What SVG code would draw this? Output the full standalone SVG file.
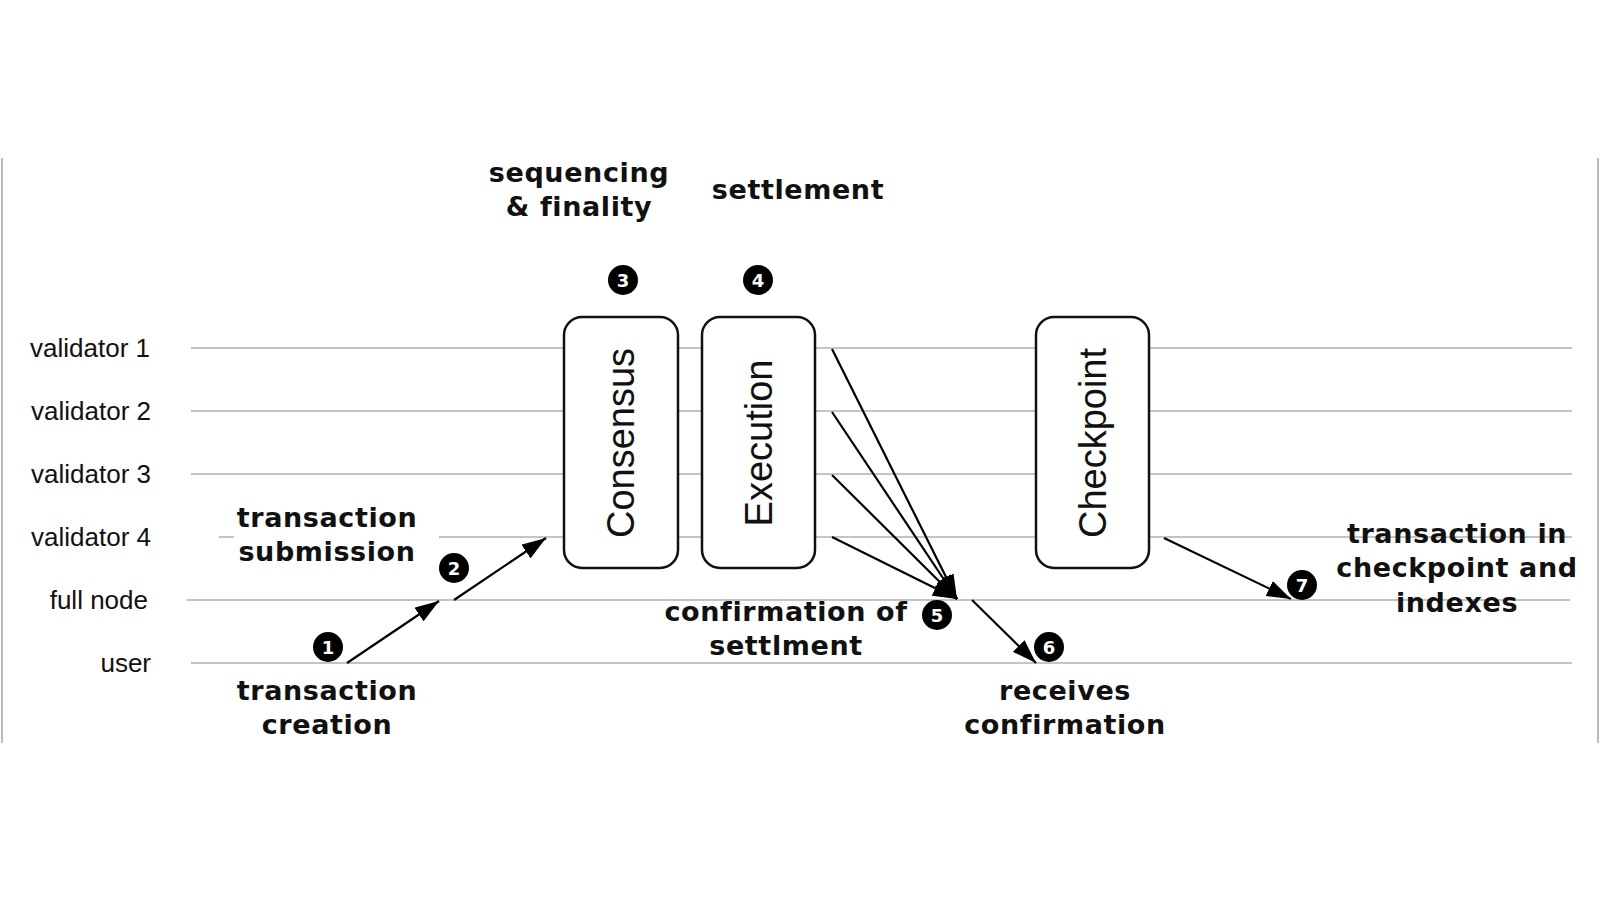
<svg xmlns="http://www.w3.org/2000/svg" width="1600" height="900" viewBox="0 0 1600 900">
<defs>
<marker id="ah" viewBox="0 0 10 10" refX="10" refY="5" markerWidth="11" markerHeight="7.5" orient="auto" markerUnits="strokeWidth" preserveAspectRatio="none"><path d="M0,0 L10,5 L0,10 z" fill="#000"/></marker>
<style>
.lane{stroke:#c4c4c4;stroke-width:2;fill:none}
.lbl{font-family:"Liberation Sans",Arial,sans-serif;font-size:26px;fill:#111;text-anchor:end}
.b{font-family:"DejaVu Sans",Verdana,sans-serif;font-weight:bold;font-size:27px;letter-spacing:0.6px;fill:#111;text-anchor:middle}
.box{fill:#fff;stroke:#111;stroke-width:2.5}
.bt{font-family:"Liberation Sans",Arial,sans-serif;font-size:38px;fill:#111;text-anchor:middle}
.arr{stroke:#000;stroke-width:2.2;fill:none;marker-end:url(#ah)}
.num{font-family:"DejaVu Sans",sans-serif;font-weight:bold;font-size:18px;fill:#fff;text-anchor:middle}
</style>
</defs>
<rect width="1600" height="900" fill="#fff"/>
<line x1="2" y1="158" x2="2" y2="743" stroke="#bbb" stroke-width="2"/>
<line x1="1598" y1="158" x2="1598" y2="743" stroke="#bbb" stroke-width="2"/>
<g id="lanes">
<line class="lane" x1="191" y1="348" x2="1572" y2="348"/>
<line class="lane" x1="191" y1="411" x2="1572" y2="411"/>
<line class="lane" x1="191" y1="474" x2="1572" y2="474"/>
<line class="lane" x1="219" y1="537" x2="234" y2="537"/>
<line class="lane" x1="439" y1="537" x2="1572" y2="537"/>
<line class="lane" x1="187" y1="600" x2="1570" y2="600"/>
<line class="lane" x1="191" y1="663" x2="1572" y2="663"/>
<text class="lbl" x="150" y="357">validator 1</text>
<text class="lbl" x="151" y="420">validator 2</text>
<text class="lbl" x="151" y="483">validator 3</text>
<text class="lbl" x="151" y="546">validator 4</text>
<text class="lbl" x="148" y="609">full node</text>
<text class="lbl" x="151" y="672">user</text>
</g>
<g id="consensus"><rect class="box" x="564" y="317" width="114" height="251" rx="18"/><text class="bt" transform="translate(634,443) rotate(-90)">Consensus</text></g>
<g id="execution"><rect class="box" x="702" y="317" width="113" height="251" rx="18"/><text class="bt" transform="translate(772,443) rotate(-90)">Execution</text></g>
<g id="checkpoint"><rect class="box" x="1036" y="317" width="113" height="251" rx="18"/><text class="bt" transform="translate(1106,443) rotate(-90)">Checkpoint</text></g>
<g id="labels">
<text class="b" x="579" y="182">sequencing</text>
<text class="b" x="579" y="216">&amp; finality</text>
<text class="b" x="798" y="199">settlement</text>
<text class="b" x="327" y="527">transaction</text>
<text class="b" x="327" y="561">submission</text>
<text class="b" x="327" y="700">transaction</text>
<text class="b" x="327" y="734">creation</text>
<text class="b" x="786" y="621">confirmation of</text>
<text class="b" x="786" y="655">settlment</text>
<text class="b" x="1065" y="700">receives</text>
<text class="b" x="1065" y="734">confirmation</text>
<text class="b" x="1457" y="543">transaction in</text>
<text class="b" x="1457" y="577">checkpoint and</text>
<text class="b" x="1457" y="612">indexes</text>
</g>
<g id="steps">
<circle cx="328" cy="647" r="15"/><text class="num" x="328" y="654">1</text>
<circle cx="454" cy="568" r="15"/><text class="num" x="454" y="575">2</text>
<circle cx="623" cy="280" r="15"/><text class="num" x="623" y="287">3</text>
<circle cx="758" cy="280" r="15"/><text class="num" x="758" y="287">4</text>
<circle cx="937" cy="615" r="15"/><text class="num" x="937" y="622">5</text>
<circle cx="1049" cy="647" r="15"/><text class="num" x="1049" y="654">6</text>
<circle cx="1302" cy="585" r="15"/><text class="num" x="1302" y="592">7</text>
</g>
<g id="connectors">
<line class="arr" x1="347" y1="663" x2="439" y2="601"/>
<line class="arr" x1="454" y1="600" x2="546" y2="538"/>
<line class="arr" x1="832" y1="349" x2="957" y2="599"/>
<line class="arr" x1="832" y1="412" x2="957" y2="599"/>
<line class="arr" x1="832" y1="475" x2="957" y2="599"/>
<line class="arr" x1="832" y1="537" x2="957" y2="599"/>
<line class="arr" x1="972" y1="600" x2="1036" y2="663"/>
<line class="arr" x1="1164" y1="538" x2="1291" y2="599"/>
</g>
</svg>
